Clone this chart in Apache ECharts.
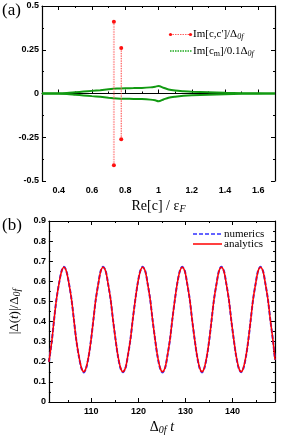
<!DOCTYPE html>
<html><head><meta charset="utf-8">
<script src="https://cdn.jsdelivr.net/npm/echarts@6/dist/echarts.min.js"></script>
<style>html,body{margin:0;padding:0;background:#fff}#c{width:285px;height:436px}</style>
</head><body><div id="c"></div>
<script>
// ---- Panel (a) data ----
const aXTicks = [0.4, 0.6, 0.8, 1.0, 1.2, 1.4, 1.6];
const aXMinor = [0.5, 0.7, 0.9, 1.1, 1.3, 1.5];
const redLine1 = [[0.732, -0.41], [0.732, 0.41]];
const redLine2 = [[0.776, -0.262], [0.776, 0.26]];
const greenX = [0.3, 0.4, 0.45, 0.5, 0.55, 0.6, 0.65, 0.7, 0.75, 0.8, 0.85, 0.9, 0.95, 0.98, 1.0, 1.03, 1.06, 1.1, 1.15, 1.2, 1.3, 1.4, 1.5, 1.6, 1.7];
const greenUpper = [0.001, 0.001, 0.003, 0.007, 0.011, 0.015, 0.019, 0.024, 0.028, 0.030, 0.031, 0.032, 0.035, 0.039, 0.043, 0.033, 0.023, 0.017, 0.013, 0.010, 0.007, 0.004, 0.002, 0.001, 0.0];
const greenLower = [-0.001, -0.001, -0.003, -0.007, -0.011, -0.015, -0.019, -0.024, -0.028, -0.030, -0.031, -0.032, -0.035, -0.039, -0.044, -0.034, -0.024, -0.018, -0.013, -0.010, -0.007, -0.004, -0.002, -0.001, 0.0];

// ---- Panel (b) data ----
const bXTicks = [110, 120, 130, 140];
const bXMinor = [105, 115, 125, 135, 145];
const bT = [
  101.0, 101.6, 102.1, 102.6, 103.15, 103.7, 104.2,
  104.7, 105.25, 105.8, 106.3, 106.8, 107.35, 107.9, 108.4,
  108.9, 109.45, 109.95, 110.45, 110.95, 111.5, 112.0, 112.5,
  113.05, 113.55, 114.1, 114.6, 115.15, 115.65, 116.2, 116.7,
  117.25, 117.75, 118.3, 118.8, 119.35, 119.85, 120.4, 120.9,
  121.45, 121.95, 122.5, 123.0, 123.55, 124.05, 124.6, 125.1,
  125.65, 126.15, 126.7, 127.2, 127.75, 128.25, 128.8, 129.3,
  129.85, 130.35, 130.9, 131.4, 131.95, 132.45, 133.0, 133.5,
  134.0, 134.55, 135.05, 135.55, 136.05, 136.6, 137.1, 137.6,
  138.15, 138.65, 139.2, 139.7, 140.25, 140.75, 141.3, 141.8,
  142.3, 142.85, 143.35, 143.85, 144.35, 144.9, 145.4, 145.9,
  146.45, 146.95, 147.5, 148.0, 148.55, 149.0];
const bAnalytics = [
  0.20, 0.30, 0.41, 0.51, 0.59, 0.65, 0.67,
  0.65, 0.59, 0.51, 0.41, 0.31, 0.23, 0.17, 0.15,
  0.17, 0.23, 0.31, 0.41, 0.51, 0.59, 0.65, 0.67,
  0.65, 0.59, 0.51, 0.41, 0.31, 0.23, 0.17, 0.15,
  0.17, 0.23, 0.31, 0.41, 0.51, 0.59, 0.65, 0.67,
  0.65, 0.59, 0.51, 0.41, 0.31, 0.23, 0.17, 0.15,
  0.17, 0.23, 0.31, 0.41, 0.51, 0.59, 0.65, 0.67,
  0.65, 0.59, 0.51, 0.41, 0.31, 0.23, 0.17, 0.15,
  0.17, 0.23, 0.31, 0.41, 0.51, 0.59, 0.65, 0.67,
  0.65, 0.59, 0.51, 0.41, 0.31, 0.23, 0.17, 0.15,
  0.17, 0.23, 0.31, 0.41, 0.51, 0.59, 0.65, 0.67,
  0.65, 0.59, 0.51, 0.41, 0.31, 0.21];
const bNumerics = [
  0.20, 0.30, 0.41, 0.51, 0.59, 0.652, 0.672,
  0.652, 0.59, 0.51, 0.41, 0.31, 0.228, 0.168, 0.147,
  0.168, 0.228, 0.31, 0.41, 0.51, 0.59, 0.652, 0.672,
  0.652, 0.59, 0.51, 0.41, 0.31, 0.228, 0.168, 0.148,
  0.168, 0.228, 0.31, 0.41, 0.51, 0.59, 0.652, 0.672,
  0.652, 0.59, 0.51, 0.41, 0.31, 0.228, 0.168, 0.147,
  0.168, 0.228, 0.31, 0.41, 0.51, 0.59, 0.652, 0.672,
  0.652, 0.59, 0.51, 0.41, 0.31, 0.228, 0.168, 0.147,
  0.168, 0.228, 0.31, 0.41, 0.51, 0.59, 0.652, 0.672,
  0.652, 0.59, 0.51, 0.41, 0.31, 0.228, 0.168, 0.148,
  0.168, 0.228, 0.31, 0.41, 0.51, 0.59, 0.652, 0.672,
  0.652, 0.59, 0.51, 0.41, 0.31, 0.21];

const SERIF = '"Liberation Serif","Times New Roman",serif';
const SANS = '"Liberation Sans",Arial,sans-serif';
const lblStyle = {fontFamily: SANS, fontWeight: 'bold', fontSize: 9, color: '#000'};
const axLine = {show: true, lineStyle: {color: '#000', width: 1.2}};

function xAxes(grid, min, max, major, minor, name, nameRich) {
  return [
    {type: 'value', gridIndex: grid, min, max, position: 'bottom',
     axisLine: axLine, splitLine: {show: false},
     axisLabel: Object.assign({customValues: major, margin: 5}, lblStyle),
     axisTick: {customValues: major, inside: true, length: 4, lineStyle: {color: '#000'}},
     name, nameLocation: 'middle', nameGap: 17,
     nameTextStyle: {fontFamily: SERIF, fontSize: 14, color: '#000', rich: nameRich}},
    {type: 'value', gridIndex: grid, min, max, position: 'bottom',
     axisLine: {show: false}, splitLine: {show: false}, axisLabel: {show: false},
     axisTick: {customValues: minor, inside: true, length: 2, lineStyle: {color: '#000'}}},
    {type: 'value', gridIndex: grid, min, max, position: 'top',
     axisLine: axLine, splitLine: {show: false}, axisLabel: {show: false},
     axisTick: {customValues: major, inside: true, length: 4, lineStyle: {color: '#000'}}},
    {type: 'value', gridIndex: grid, min, max, position: 'top',
     axisLine: {show: false}, splitLine: {show: false}, axisLabel: {show: false},
     axisTick: {customValues: minor, inside: true, length: 2, lineStyle: {color: '#000'}}}
  ];
}
function yAxes(grid, min, max, interval, name, nameRich) {
  const common = {type: 'value', gridIndex: grid, min, max, interval, splitLine: {show: false},
    axisLine: axLine,
    axisTick: {inside: true, length: 4, lineStyle: {color: '#000'}},
    minorTick: {show: true, splitNumber: 2, length: 2, lineStyle: {color: '#000'}},
    minorSplitLine: {show: false}};
  return [
    Object.assign({}, common, {position: 'left', axisLabel: Object.assign({margin: 3}, lblStyle),
      name, nameLocation: 'middle', nameGap: 26, nameRotate: 90,
      nameTextStyle: {fontFamily: SERIF, fontSize: 13, color: '#000', rich: nameRich}}),
    Object.assign({}, common, {position: 'right', axisLabel: {show: false}})
  ];
}

const sub = {fontFamily: SERIF, fontStyle: 'italic', fontSize: 10, padding: [6, 0, 0, 0], color: '#000'};
const subR = {fontFamily: SERIF, fontStyle: 'italic', fontSize: 8, padding: [5, 0, 0, 0], color: '#000'};
const base = {fontFamily: SERIF, fontSize: 14, color: '#000'};
const baseY = {fontFamily: SERIF, fontSize: 13, color: '#000'};
const legBase = {fontFamily: SERIF, fontSize: 11, color: '#000'};

const option = {
  animation: false,
  backgroundColor: '#fff',
  grid: [
    {left: 42, right: 10, top: 6, height: 175},
    {left: 42, right: 10, top: 221, height: 181}
  ],
  xAxis: [].concat(
    xAxes(0, 0.3, 1.7, aXTicks, aXMinor, '{b|Re[c] / ε}{s|F}', {b: base, s: sub}),
    xAxes(1, 101, 149, bXTicks, bXMinor, '{b|Δ}{s|0f}{i| t}', {b: base, s: sub, i: Object.assign({}, base, {fontStyle: 'italic'})})
  ),
  yAxis: [].concat(
    yAxes(0, -0.5, 0.5, 0.25, '', {}),
    yAxes(1, 0, 0.9, 0.1, '{b||Δ(}{i|t}{b|)|/Δ}{s|0f}', {b: baseY, i: Object.assign({}, baseY, {fontStyle: 'italic'}), s: sub})
  ),
  series: [
    {type: 'line', xAxisIndex: 0, yAxisIndex: 0, data: greenX.map((x, i) => [x, greenUpper[i]]),
     smooth: 0.3, showSymbol: false, lineStyle: {color: '#129a12', width: 2}},
    {type: 'line', xAxisIndex: 0, yAxisIndex: 0, data: greenX.map((x, i) => [x, greenLower[i]]),
     smooth: 0.3, showSymbol: false, lineStyle: {color: '#129a12', width: 2}},
    {type: 'line', xAxisIndex: 0, yAxisIndex: 0, data: redLine1, symbol: 'circle', symbolSize: 4,
     itemStyle: {color: '#ff1010'}, lineStyle: {color: '#ff8080', width: 2, type: [1.5, 1], opacity: 0.7}},
    {type: 'line', xAxisIndex: 0, yAxisIndex: 0, data: redLine2, symbol: 'circle', symbolSize: 4,
     itemStyle: {color: '#ff1010'}, lineStyle: {color: '#ff4040', width: 1, type: [1.5, 1]}},
    {type: 'line', xAxisIndex: 4, yAxisIndex: 2, data: bT.map((t, i) => [t, bNumerics[i]]),
     smooth: 0.3, showSymbol: false, lineStyle: {color: '#3030ff', width: 2, type: [4, 2]}},
    {type: 'line', xAxisIndex: 4, yAxisIndex: 2, data: bT.map((t, i) => [t, bAnalytics[i]]),
     smooth: 0.3, showSymbol: false, lineStyle: {color: '#ff0000', width: 1.5}}
  ],
  graphic: [
    {type: 'text', left: 2, top: 2, style: {text: '(a)', fontFamily: SERIF, fontSize: 17, fill: '#000'}},
    {type: 'text', left: 2, top: 217, style: {text: '(b)', fontFamily: SERIF, fontSize: 17, fill: '#000'}},
    // legend (a)
    {type: 'line', shape: {x1: 170, y1: 34.5, x2: 191, y2: 34.5}, style: {stroke: '#ff6060', lineWidth: 1.2, lineDash: [1.5, 1]}},
    {type: 'circle', shape: {cx: 170.5, cy: 34.5, r: 1.6}, style: {fill: '#ff1010'}},
    {type: 'circle', shape: {cx: 190.5, cy: 34.5, r: 1.6}, style: {fill: '#ff1010'}},
    {type: 'text', x: 193, y: 34.5, style: {text: "{b|Im[c,c']/Δ}{s|0f}", rich: {b: legBase, s: subR}, verticalAlign: 'middle'}},
    {type: 'line', shape: {x1: 170, y1: 51, x2: 192, y2: 51}, style: {stroke: '#22aa22', lineWidth: 1.5, lineDash: [1.5, 1]}},
    {type: 'text', x: 193, y: 51, style: {text: '{b|Im[c}{m|m}{b|]/0.1Δ}{s|0f}', rich: {b: legBase, s: subR, m: {fontFamily: SERIF, fontSize: 8, padding: [5, 0, 0, 0], color: '#000'}}, verticalAlign: 'middle'}},
    // legend (b)
    {type: 'line', shape: {x1: 193, y1: 234, x2: 222, y2: 234}, style: {stroke: '#3030ff', lineWidth: 1.5, lineDash: [4, 2]}},
    {type: 'text', x: 224, y: 234, style: {text: 'numerics', fontFamily: SERIF, fontSize: 11, fill: '#000', verticalAlign: 'middle'}},
    {type: 'line', shape: {x1: 193, y1: 244, x2: 222, y2: 244}, style: {stroke: '#ff0000', lineWidth: 1.5}},
    {type: 'text', x: 224, y: 244, style: {text: 'analytics', fontFamily: SERIF, fontSize: 11, fill: '#000', verticalAlign: 'middle'}}
  ]
};
const chart = echarts.init(document.getElementById('c'), null, {renderer: 'canvas'});
chart.setOption(option);
</script></body></html>
